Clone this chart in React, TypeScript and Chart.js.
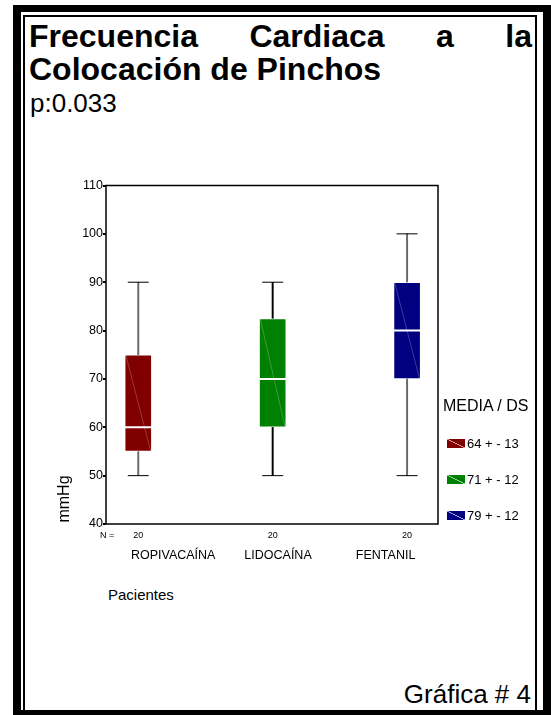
import React, { useEffect, useRef } from 'react';
import { Chart, registerables } from 'chart.js';

Chart.register(...registerables);

// ---- data ----
const categories = ['ROPIVACAÍNA', 'LIDOCAÍNA', 'FENTANIL'];
const nCounts = [20, 20, 20];
const minValues = [50, 50, 50];
const q1Values = [55, 60, 70];
const medianValues = [60, 70, 80];
const q3Values = [75, 82.5, 90];
const maxValues = [90, 90, 100];
const meanValues = [64, 71, 79];
const sdValues = [13, 12, 12];
const yTickValues = [40, 50, 60, 70, 80, 90, 100, 110];
const catLabelPositions = [0.26, 1.04, 1.84];

// ---- styles ----
const boxColors = ['#800000', '#008000', '#000080'];
const whiskerColors = ['#6a6a6a', '#000000', '#6a6a6a'];
const FONT = '"Liberation Sans", Arial, Helvetica, sans-serif';

const framePlugin = {
  id: 'frame',
  afterDraw(chart: any) {
    const { ctx, chartArea } = chart;
    const { left, top, right, bottom } = chartArea;
    ctx.save();
    ctx.strokeStyle = '#000';
    ctx.lineWidth = 1.5;
    ctx.strokeRect(left, top, right - left, bottom - top);
    ctx.restore();
  },
};

const diagPlugin = {
  id: 'diag',
  afterDatasetDraw(chart: any, args: any) {
    const ds = chart.data.datasets[args.index];
    if (ds.label !== 'box') return;
    const ctx = chart.ctx;
    ctx.save();
    ctx.strokeStyle = 'rgba(255,255,255,0.28)';
    ctx.lineWidth = 0.8;
    args.meta.data.forEach((el: any) => {
      const { x, y, base, width } = el.getProps(['x', 'y', 'base', 'width'], true);
      const t = Math.min(y, base);
      const b = Math.max(y, base);
      ctx.beginPath();
      ctx.moveTo(x - width / 2 + 1, t);
      ctx.lineTo(x + width / 2 - 1, b);
      ctx.stroke();
    });
    ctx.restore();
  },
};

function BoxChart() {
  const ref = useRef<HTMLCanvasElement | null>(null);
  useEffect(() => {
    if (!ref.current) return;
    const idx = categories.map((_, i) => i);
    const chart = new Chart(ref.current, {
      type: 'bar',
      data: {
        datasets: [
          {
            type: 'scatter',
            label: 'median',
            data: idx.map((i) => ({ x: i, y: medianValues[i] })),
            pointStyle: 'line',
            pointRadius: 13.5,
            pointHoverRadius: 13.5,
            borderColor: '#ffffff',
            pointBorderColor: '#ffffff',
            borderWidth: 2,
            pointBorderWidth: 2,
            order: 0,
          } as any,
          {
            type: 'scatter',
            label: 'caps',
            data: [
              ...idx.map((i) => ({ x: i, y: maxValues[i] })),
              ...idx.map((i) => ({ x: i, y: minValues[i] })),
            ],
            pointStyle: 'line',
            pointRadius: 10.5,
            pointHoverRadius: 10.5,
            borderColor: '#000',
            pointBorderColor: '#000',
            borderWidth: 1,
            pointBorderWidth: 1,
            order: 1,
          } as any,
          {
            type: 'bar',
            label: 'box',
            data: idx.map((i) => ({ x: i, y: [q1Values[i], q3Values[i]] })),
            backgroundColor: boxColors,
            borderColor: 'rgba(255,255,255,0.3)',
            borderWidth: 1,
            borderSkipped: false,
            barThickness: 27,
            grouped: false,
            order: 2,
          } as any,
          {
            type: 'bar',
            label: 'upperWhisker',
            data: idx.map((i) => ({ x: i, y: [q3Values[i], maxValues[i]] })),
            backgroundColor: whiskerColors,
            borderWidth: 0,
            barThickness: 1.3,
            grouped: false,
            order: 3,
          } as any,
          {
            type: 'bar',
            label: 'lowerWhisker',
            data: idx.map((i) => ({ x: i, y: [minValues[i], q1Values[i]] })),
            backgroundColor: whiskerColors,
            borderWidth: 0,
            barThickness: 1.3,
            grouped: false,
            order: 3,
          } as any,
        ],
      },
      options: {
        responsive: false,
        animation: false,
        events: [],
        layout: { padding: { top: 13, right: 18, left: 0, bottom: 0 } },
        plugins: { legend: { display: false }, tooltip: { enabled: false } },
        scales: {
          x: {
            type: 'linear',
            position: 'bottom',
            min: -0.24,
            max: 2.23,
            offset: false,
            weight: 0,
            afterBuildTicks: (s: any) => {
              s.ticks = nCounts.map((_, i) => ({ value: i }));
            },
            afterFit: (s: any) => {
              s.height = 22;
            },
            grid: { display: false, drawTicks: false, offset: false },
            border: { display: false },
            ticks: {
              autoSkip: false,
              maxRotation: 0,
              padding: 6,
              color: '#000',
              font: { family: FONT, size: 9 },
              callback: (_v: any, i: number) => String(nCounts[i]),
            },
          },
          xCat: {
            type: 'linear',
            position: 'bottom',
            min: -0.24,
            max: 2.23,
            offset: false,
            weight: 1,
            afterBuildTicks: (s: any) => {
              s.ticks = catLabelPositions.map((v) => ({ value: v }));
            },
            afterFit: (s: any) => {
              s.height = 32;
            },
            grid: { display: false, drawTicks: false, offset: false },
            border: { display: false },
            ticks: {
              autoSkip: false,
              maxRotation: 0,
              padding: 2,
              color: '#000',
              font: { family: FONT, size: 12.5 },
              callback: (_v: any, i: number) => categories[i],
            },
          },
          y: {
            type: 'linear',
            min: 40,
            max: 110,
            afterBuildTicks: (s: any) => {
              s.ticks = yTickValues.map((v) => ({ value: v }));
            },
            afterFit: (s: any) => {
              s.width = 50;
            },
            grid: {
              display: true,
              drawOnChartArea: false,
              drawTicks: true,
              tickLength: 3,
              color: '#000',
              lineWidth: 2,
            },
            border: { display: false },
            ticks: {
              padding: 0,
              color: '#000',
              font: { family: FONT, size: 12.5 },
            },
          },
        } as any,
      },
      plugins: [framePlugin, diagPlugin],
    } as any);
    return () => chart.destroy();
  }, []);
  return (
    <canvas
      ref={ref}
      width={400}
      height={408}
      style={{ position: 'absolute', left: 56, top: 170 }}
    />
  );
}

export default function App() {
  return (
    <div
      style={{
        position: 'absolute',
        left: 0,
        top: 0,
        width: 551,
        height: 715,
        overflow: 'hidden',
        fontFamily: FONT,
        color: '#000',
        background: '#fff',
      }}
    >
      {/* outer thick frame */}
      <div
        style={{
          position: 'absolute',
          left: 13,
          top: 5,
          width: 538,
          height: 710,
          boxSizing: 'border-box',
          borderLeft: '8px solid #000',
          borderTop: '7px solid #000',
          borderRight: '8px solid #000',
          borderBottom: '5px solid #000',
        }}
      />
      {/* inner thin frame */}
      <div
        style={{
          position: 'absolute',
          left: 23,
          top: 15,
          width: 514,
          height: 697,
          boxSizing: 'border-box',
          border: '2px solid #000',
        }}
      />
      {/* title */}
      <div
        style={{
          position: 'absolute',
          left: 29,
          top: 20,
          width: 503,
          fontSize: 32,
          lineHeight: '33px',
          fontWeight: 'bold',
          textAlign: 'justify',
          textAlignLast: 'left',
        }}
      >
        Frecuencia Cardiaca a la Colocación de Pinchos
      </div>
      <div
        style={{
          position: 'absolute',
          left: 30,
          top: 88,
          fontSize: 26,
          lineHeight: '30px',
        }}
      >
        p:0.033
      </div>

      <BoxChart />

      {/* y axis title */}
      <div
        style={{
          position: 'absolute',
          left: 64,
          top: 499,
          fontSize: 16,
          lineHeight: '18px',
          whiteSpace: 'nowrap',
          transform: 'translate(-50%, -50%) rotate(-90deg)',
        }}
      >
        mmHg
      </div>
      {/* N = */}
      <div
        style={{
          position: 'absolute',
          left: 100,
          top: 530,
          fontSize: 9,
          lineHeight: '11px',
          whiteSpace: 'nowrap',
        }}
      >
        N =
      </div>
      {/* x axis title */}
      <div
        style={{
          position: 'absolute',
          left: 108,
          top: 586,
          fontSize: 15,
          lineHeight: '18px',
        }}
      >
        Pacientes
      </div>

      {/* legend */}
      <div
        style={{
          position: 'absolute',
          left: 443,
          top: 397,
          fontSize: 16,
          lineHeight: '18px',
          whiteSpace: 'nowrap',
        }}
      >
        MEDIA / DS
      </div>
      {categories.map((c, i) => (
        <div
          key={c}
          style={{
            position: 'absolute',
            left: 447,
            top: 437 + i * 36,
            height: 13,
            display: 'flex',
            alignItems: 'center',
            fontSize: 13,
            lineHeight: '13px',
            whiteSpace: 'nowrap',
          }}
        >
          <span
            style={{
              display: 'inline-block',
              width: 18,
              height: 9,
              marginRight: 2,
              background: `linear-gradient(to top right, ${boxColors[i]} calc(50% - 0.6px), rgba(255,255,255,0.45) 50%, ${boxColors[i]} calc(50% + 0.6px))`,
            }}
          />
          <span>{`${meanValues[i]} + - ${sdValues[i]}`}</span>
        </div>
      ))}

      {/* footer */}
      <div
        style={{
          position: 'absolute',
          right: 20,
          top: 679,
          fontSize: 26,
          lineHeight: '30px',
          whiteSpace: 'nowrap',
        }}
      >
        Gráfica # 4
      </div>
    </div>
  );
}
